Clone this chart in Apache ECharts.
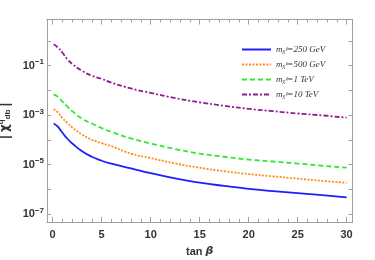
<!DOCTYPE html>
<html><head><meta charset="utf-8">
<script src="https://cdn.jsdelivr.net/npm/echarts@6/dist/echarts.min.js"></script>
<style>html,body{margin:0;padding:0;background:#fff}#c{width:375px;height:260px}</style>
</head><body><div id="c"></div>
<script>
const tanBeta = [0.1,0.5,1,1.5,2,3,4,5,6,8,10,12.5,15,17.5,20,22.5,25,27.5,30];
const m250 = [4.6e-4,3.5e-4,1.95e-4,1.12e-4,7.2e-5,3.5e-5,2.1e-5,1.45e-5,1.1e-5,7.1e-6,4.6e-6,2.8e-6,1.9e-6,1.4e-6,1.07e-6,8.7e-7,7.2e-7,5.9e-7,4.8e-7];
const m500 = [1.74e-3,1.32e-3,7.6e-4,4.8e-4,3.2e-4,1.66e-4,1.02e-4,7.4e-5,5.6e-5,2.8e-5,1.86e-5,1.12e-5,7.6e-6,5.5e-6,4.2e-6,3.4e-6,2.75e-6,2.24e-6,1.86e-6];
const m1T = [6.9e-3,5.6e-3,3.5e-3,2.2e-3,1.45e-3,7.2e-4,4.6e-4,3.0e-4,2.1e-4,1.15e-4,7.2e-5,4.3e-5,2.8e-5,2.1e-5,1.62e-5,1.35e-5,1.12e-5,9.1e-6,7.6e-6];
const m10T = [0.73,0.55,0.33,0.18,0.117,0.062,0.039,0.029,0.0204,0.012,0.0079,0.0049,0.0033,0.0024,0.0018,0.00145,0.00117,0.00098,0.00079];
const seriesNames = ['250 GeV','500 GeV','1 TeV','10 TeV'];
const xTickLabels = [0,5,10,15,20,25,30];
const xMinorTicks = [0,1,2,3,4,5,6,7,8,9,10,11,12,13,14,15,16,17,18,19,20,21,22,23,24,25,26,27,28,29,30];
const yLabelExps = [-7,-5,-3,-1];
const yTickExps = [-7,-6,-5,-4,-3,-2,-1,0];

const axisColor = '#a0a0a0';
const labelFont = {fontFamily:'Liberation Sans', fontWeight:'bold', fontSize:11, color:'#333'};
const xMin = -0.58, xMax = 30.6;
const yMin = Math.pow(10,-7.31), yMax = Math.pow(10,0.86);
const pair = arr => tanBeta.map((x,i)=>[x,arr[i]]);
const mk = (name, data, color, type) => ({
  name, type:'line', data: pair(data), showSymbol:false, symbol:'none', smooth:0.5,
  xAxisIndex:0, yAxisIndex:0,
  lineStyle:{color, width:1.8, type}, itemStyle:{color}
});
function xAx(pos, ticks, len, showLabel){
  return {type:'value', min:xMin, max:xMax, position:pos,
    axisLine:{show:true, onZero:false, lineStyle:{color:axisColor, width:1}},
    axisTick:{show:true, inside:true, length:len, customValues:ticks, lineStyle:{color:axisColor}},
    axisLabel:{show:showLabel, customValues:ticks, margin:7, ...labelFont},
    splitLine:{show:false}};
}
function yAx(pos, showLabel){
  return {type:'log', min:yMin, max:yMax, position:pos, logBase:10,
    axisLine:{show:true, onZero:false, lineStyle:{color:axisColor, width:1}},
    axisTick:{show:true, inside:true, length:4, customValues:yTickExps.map(e=>Math.pow(10,e)), lineStyle:{color:axisColor}},
    axisLabel:{show:showLabel, customValues:yLabelExps.map(e=>Math.pow(10,e)), margin:3, ...labelFont,
      formatter: v => '10{s|' + String(Math.round(Math.log10(v))).replace('-','\u2212') + '}',
      rich:{s:{fontFamily:'Liberation Sans', fontWeight:'bold', fontSize:8, color:'#333', padding:[0,0,7,0]}}},
    splitLine:{show:false}};
}
const xb = xAx('bottom', xTickLabels, 5, true);
xb.name = 'tan {b|β}'; xb.nameLocation='middle'; xb.nameGap=24;
xb.nameTextStyle = {...labelFont, rich:{b:{...labelFont, fontStyle:'italic', fontFamily:'DejaVu Sans'}}};
const yl = yAx('left', true);
yl.name = '| {c|χ̃}{s|q}{u|db} |'; yl.nameLocation='middle'; yl.nameGap=30; yl.nameRotate=90;
yl.nameTextStyle = {...labelFont, fontSize:12, rich:{
  c:{...labelFont, fontSize:12, fontFamily:'DejaVu Sans'},
  s:{...labelFont, fontSize:8, padding:[0,0,9,0]},
  u:{...labelFont, fontSize:8, padding:[5,0,0,0]}}};

const legendRich = {
  m:{fontFamily:'Liberation Serif', fontStyle:'italic', fontSize:9, color:'#333'},
  x:{fontFamily:'Liberation Serif', fontStyle:'italic', fontSize:6.5, color:'#333', padding:[4,0,0,0]}
};
const chart = echarts.init(document.getElementById('c'), null, {renderer:'canvas'});
chart.setOption({
  animation:false,
  grid:{left:47, right:22.5, top:19.5, bottom:38, containLabel:false, outerBoundsMode:'none'},
  legend:{orient:'vertical', left:236, top:40, itemWidth:29, itemHeight:10, itemGap:5,
    data: seriesNames,
    itemStyle:{opacity:0, borderWidth:0},
    formatter: n => '{m|m}{x|χ⁰}{m|=' + n + '}',
    textStyle:{rich:legendRich}},
  xAxis:[xb, xAx('bottom', xMinorTicks, 3, false), xAx('top', xTickLabels, 5, false), xAx('top', xMinorTicks, 3, false)],
  yAxis:[yl, yAx('right', false)],
  series:[
    mk(seriesNames[0], m250, '#1e1eff', 'solid'),
    mk(seriesNames[1], m500, '#ff8c1a', [2,1.5]),
    mk(seriesNames[2], m1T, '#33e833', [5,3]),
    mk(seriesNames[3], m10T, '#8e1f8e', [5,2,2,2])
  ]
});
</script></body></html>
